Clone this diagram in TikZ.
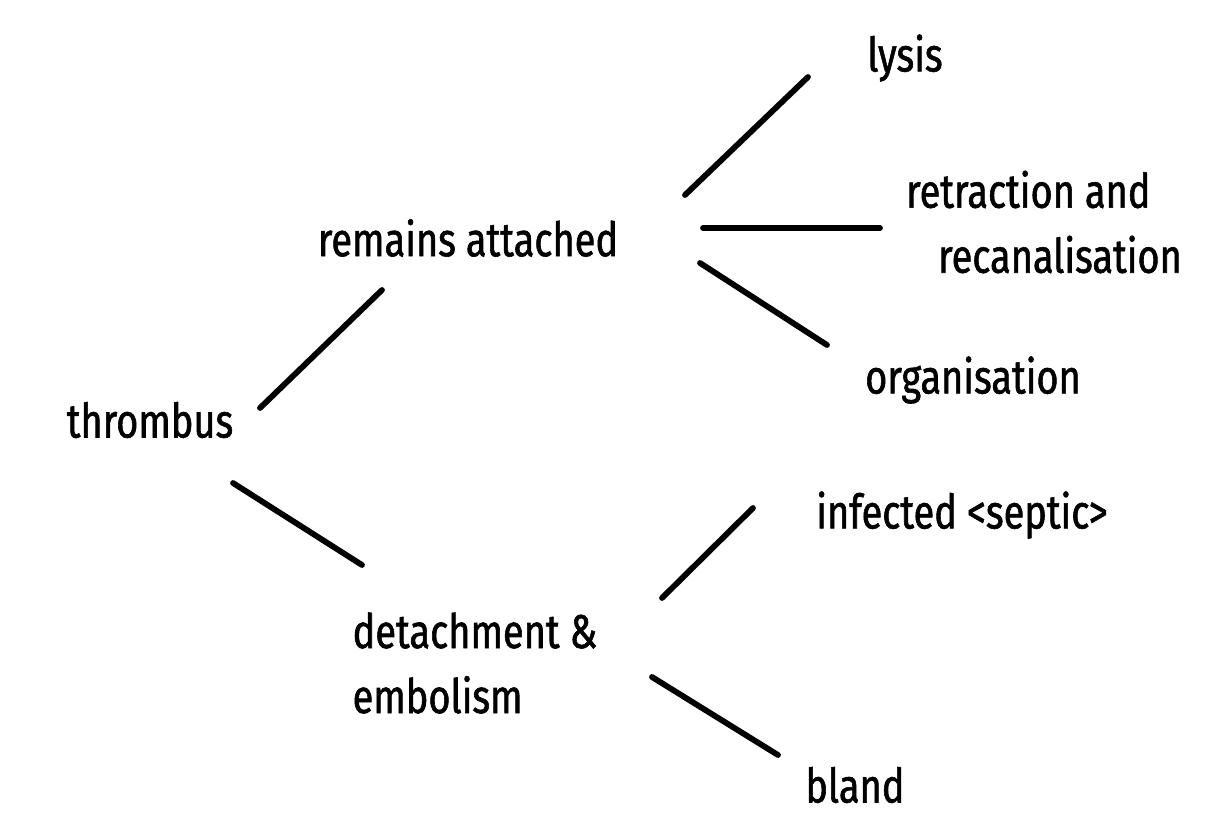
\documentclass[tikz,border=0pt]{standalone}
\usepackage{fontspec}
\setmainfont[FakeStretch=0.8,FakeBold=1.2]{Fira Sans}
\begin{document}
\begin{tikzpicture}[x=0.02cm,y=-0.02cm,
  lbl/.style={font=\fontsize{27}{37}\selectfont,inner sep=0pt},
  branch/.style={line width=3.3pt,line cap=round}]
\useasboundingbox (0,0) rectangle (1218,834);

% labels
\node[lbl] (thrombus) at (150,420) {thrombus};
\node[lbl] (remains) at (468,238) {remains attached};
\node[lbl] (lysis) at (905,58) {lysis};
\node[lbl,align=left] (retraction) at (1044,222) {retraction and\\\hspace*{0.64cm}recanalisation};
\node[lbl] (organisation) at (973,380) {organisation};
\node[lbl,align=left] (detach) at (475,663) {detachment \&\\embolism};
\node[lbl] (infected) at (962,515) {infected <septic>};
\node[lbl] (bland) at (855,785) {bland};

% branches
\draw[branch] ([shift={(110,-12)}]thrombus.center) -- ([shift={(-86,52)}]remains.center);
\draw[branch] ([shift={(83,63)}]thrombus.center) -- ([shift={(-113,-98)}]detach.center);
\draw[branch] ([shift={(217,-43)}]remains.center) -- ([shift={(-97,19)}]lysis.center);
\draw[branch] ([shift={(235,-10)}]remains.center) -- ([shift={(-164,6)}]retraction.center);
\draw[branch] ([shift={(232,25)}]remains.center) -- ([shift={(-146,-35)}]organisation.center);
\draw[branch] ([shift={(187,-65)}]detach.center) -- ([shift={(-209,-7)}]infected.center);
\draw[branch] ([shift={(177,14)}]detach.center) -- ([shift={(-77,-30)}]bland.center);
\end{tikzpicture}
\end{document}
